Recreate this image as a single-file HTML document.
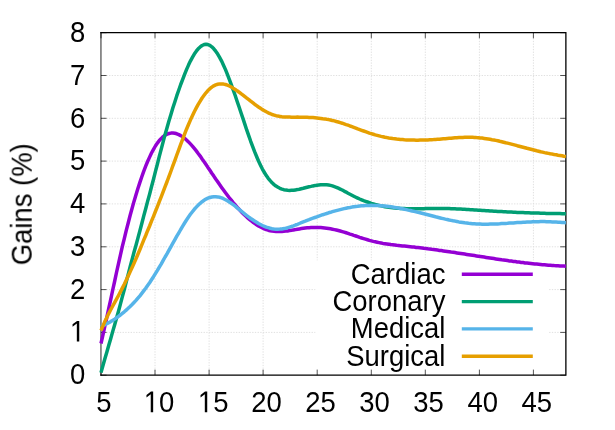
<!DOCTYPE html>
<html><head><meta charset="utf-8"><title>Gains</title>
<style>
html,body{margin:0;padding:0;background:#fff;}
svg{display:block;}
text{font-family:"Liberation Sans",sans-serif;font-size:26.67px;fill:#000;}
</style></head>
<body>
<svg width="615" height="430" viewBox="0 0 615 430">
<rect width="615" height="430" fill="#fff"/>
<g stroke="#e0e0e0" stroke-width="1" stroke-dasharray="1.35 1.35" fill="none">
<path d="M155.0,32.7 V375.2"/>
<path d="M209.1,32.7 V375.2"/>
<path d="M263.1,32.7 V375.2"/>
<path d="M317.2,32.7 V375.2"/>
<path d="M371.3,32.7 V375.2"/>
<path d="M425.3,32.7 V375.2"/>
<path d="M479.4,32.7 V375.2"/>
<path d="M533.4,32.7 V375.2"/>
<path d="M100.95,332.4 H565.88"/>
<path d="M100.95,289.6 H565.88"/>
<path d="M100.95,246.8 H565.88"/>
<path d="M100.95,203.9 H565.88"/>
<path d="M100.95,161.1 H565.88"/>
<path d="M100.95,118.3 H565.88"/>
<path d="M100.95,75.5 H565.88"/>
</g>
<rect x="315.5" y="260.4" width="233.5" height="114" fill="#fff"/>
<g stroke="#000" stroke-opacity="0.75" stroke-width="0.9" fill="none">
<path d="M101.0,375.2 v-5.6 M101.0,32.7 v5.6"/>
<path d="M155.0,375.2 v-5.6 M155.0,32.7 v5.6"/>
<path d="M209.1,375.2 v-5.6 M209.1,32.7 v5.6"/>
<path d="M263.1,375.2 v-5.6 M263.1,32.7 v5.6"/>
<path d="M317.2,375.2 v-5.6 M317.2,32.7 v5.6"/>
<path d="M371.3,375.2 v-5.6 M371.3,32.7 v5.6"/>
<path d="M425.3,375.2 v-5.6 M425.3,32.7 v5.6"/>
<path d="M479.4,375.2 v-5.6 M479.4,32.7 v5.6"/>
<path d="M533.4,375.2 v-5.6 M533.4,32.7 v5.6"/>
<path d="M100.95,375.2 h5.6 M565.88,375.2 h-5.6"/>
<path d="M100.95,332.4 h5.6 M565.88,332.4 h-5.6"/>
<path d="M100.95,289.6 h5.6 M565.88,289.6 h-5.6"/>
<path d="M100.95,246.8 h5.6 M565.88,246.8 h-5.6"/>
<path d="M100.95,203.9 h5.6 M565.88,203.9 h-5.6"/>
<path d="M100.95,161.1 h5.6 M565.88,161.1 h-5.6"/>
<path d="M100.95,118.3 h5.6 M565.88,118.3 h-5.6"/>
<path d="M100.95,75.5 h5.6 M565.88,75.5 h-5.6"/>
<path d="M100.95,32.7 h5.6 M565.88,32.7 h-5.6"/>
</g>
<path d="M100.95,375.2 V32.7" fill="none" stroke="#000" stroke-opacity="0.72" stroke-width="1.2" stroke-linecap="square"/>
<path d="M100.95,32.7 H565.88 V375.2 H100.95" fill="none" stroke="#000" stroke-width="1.3" stroke-linecap="square"/>
<g fill="none" stroke-width="3.5" stroke-linejoin="round" stroke-linecap="butt">
<path stroke="#9400d3" d="M101.0,343.5 L102.9,335.1 L104.8,326.4 L106.8,317.6 L108.7,308.6 L110.7,299.6 L112.6,290.5 L114.6,281.5 L116.5,272.5 L118.5,263.7 L120.4,255.1 L122.3,246.7 L124.3,238.6 L126.2,230.6 L128.2,223.0 L130.1,215.5 L132.1,208.3 L134.0,201.4 L136.0,194.8 L137.9,188.5 L139.9,182.4 L141.8,176.7 L143.7,171.3 L145.7,166.2 L147.6,161.5 L149.6,157.1 L151.5,153.0 L153.5,149.3 L155.4,146.0 L157.4,143.1 L159.3,140.5 L161.3,138.4 L163.2,136.6 L165.1,135.2 L167.1,134.2 L169.0,133.5 L171.0,133.1 L172.9,133.0 L174.9,133.3 L176.8,133.8 L178.8,134.6 L180.7,135.6 L182.7,136.9 L184.6,138.3 L186.5,140.0 L188.5,141.9 L190.4,143.9 L192.4,146.1 L194.3,148.4 L196.3,150.9 L198.2,153.5 L200.2,156.1 L202.1,158.9 L204.1,161.7 L206.0,164.5 L207.9,167.4 L209.9,170.3 L211.8,173.2 L213.8,176.1 L215.7,179.0 L217.7,181.8 L219.6,184.6 L221.6,187.4 L223.5,190.0 L225.5,192.7 L227.4,195.3 L229.3,197.8 L231.3,200.2 L233.2,202.6 L235.2,204.9 L237.1,207.2 L239.1,209.3 L241.0,211.4 L243.0,213.4 L244.9,215.3 L246.8,217.1 L248.8,218.8 L250.7,220.4 L252.7,222.0 L254.6,223.4 L256.6,224.7 L258.5,225.9 L260.5,227.0 L262.4,227.9 L264.4,228.8 L266.3,229.6 L268.2,230.2 L270.2,230.7 L272.1,231.1 L274.1,231.3 L276.0,231.5 L278.0,231.6 L279.9,231.6 L281.9,231.5 L283.8,231.3 L285.8,231.1 L287.7,230.9 L289.6,230.6 L291.6,230.3 L293.5,229.9 L295.5,229.6 L297.4,229.2 L299.4,228.9 L301.3,228.6 L303.3,228.3 L305.2,228.0 L307.2,227.8 L309.1,227.7 L311.0,227.6 L313.0,227.5 L314.9,227.5 L316.9,227.5 L318.8,227.5 L320.8,227.6 L322.7,227.8 L324.7,228.0 L326.6,228.2 L328.6,228.5 L330.5,228.8 L332.4,229.2 L334.4,229.6 L336.3,230.0 L338.3,230.5 L340.2,231.0 L342.2,231.6 L344.1,232.2 L346.1,232.8 L348.0,233.4 L350.0,234.1 L351.9,234.7 L353.8,235.4 L355.8,236.0 L357.7,236.7 L359.7,237.4 L361.6,238.0 L363.6,238.6 L365.5,239.2 L367.5,239.8 L369.4,240.4 L371.3,240.9 L373.3,241.4 L375.2,241.8 L377.2,242.2 L379.1,242.6 L381.1,243.0 L383.0,243.4 L385.0,243.7 L386.9,244.0 L388.9,244.3 L390.8,244.6 L392.7,244.8 L394.7,245.0 L396.6,245.3 L398.6,245.5 L400.5,245.7 L402.5,245.9 L404.4,246.1 L406.4,246.3 L408.3,246.5 L410.3,246.7 L412.2,246.9 L414.1,247.1 L416.1,247.4 L418.0,247.6 L420.0,247.8 L421.9,248.0 L423.9,248.3 L425.8,248.5 L427.8,248.8 L429.7,249.0 L431.7,249.3 L433.6,249.5 L435.5,249.8 L437.5,250.1 L439.4,250.4 L441.4,250.6 L443.3,250.9 L445.3,251.2 L447.2,251.5 L449.2,251.8 L451.1,252.1 L453.1,252.3 L455.0,252.6 L456.9,252.9 L458.9,253.2 L460.8,253.5 L462.8,253.8 L464.7,254.1 L466.7,254.4 L468.6,254.7 L470.6,255.0 L472.5,255.3 L474.5,255.6 L476.4,255.9 L478.3,256.2 L480.3,256.5 L482.2,256.8 L484.2,257.1 L486.1,257.4 L488.1,257.7 L490.0,258.0 L492.0,258.3 L493.9,258.6 L495.8,258.9 L497.8,259.2 L499.7,259.5 L501.7,259.8 L503.6,260.0 L505.6,260.3 L507.5,260.6 L509.5,260.9 L511.4,261.1 L513.4,261.4 L515.3,261.6 L517.2,261.9 L519.2,262.1 L521.1,262.4 L523.1,262.6 L525.0,262.9 L527.0,263.1 L528.9,263.3 L530.9,263.5 L532.8,263.7 L534.8,263.9 L536.7,264.1 L538.6,264.3 L540.6,264.5 L542.5,264.7 L544.5,264.8 L546.4,265.0 L548.4,265.2 L550.3,265.3 L552.3,265.4 L554.2,265.6 L556.2,265.7 L558.1,265.8 L560.0,265.9 L562.0,266.0 L563.9,266.1 L565.9,266.2"/>
<path stroke="#009e73" d="M101.0,372.6 L102.9,365.8 L104.8,359.0 L106.8,352.2 L108.7,345.5 L110.7,338.7 L112.6,331.9 L114.6,325.1 L116.5,318.2 L118.5,311.2 L120.4,304.1 L122.3,296.9 L124.3,289.5 L126.2,282.0 L128.2,274.4 L130.1,266.9 L132.1,259.5 L134.0,252.3 L136.0,245.2 L137.9,238.1 L139.9,230.8 L141.8,223.5 L143.7,216.1 L145.7,208.7 L147.6,201.4 L149.6,194.2 L151.5,186.8 L153.5,179.3 L155.4,171.7 L157.4,164.0 L159.3,156.4 L161.3,148.9 L163.2,141.6 L165.1,134.4 L167.1,127.5 L169.0,120.7 L171.0,114.2 L172.9,107.8 L174.9,101.7 L176.8,95.7 L178.8,90.0 L180.7,84.5 L182.7,79.3 L184.6,74.3 L186.5,69.6 L188.5,65.1 L190.4,61.1 L192.4,57.4 L194.3,54.1 L196.3,51.2 L198.2,48.8 L200.2,46.9 L202.1,45.5 L204.1,44.6 L206.0,44.3 L207.9,44.6 L209.9,45.4 L211.8,46.8 L213.8,48.8 L215.7,51.2 L217.7,54.1 L219.6,57.4 L221.6,61.1 L223.5,65.2 L225.5,69.6 L227.4,74.3 L229.3,79.3 L231.3,84.6 L233.2,90.0 L235.2,95.5 L237.1,101.2 L239.1,107.0 L241.0,112.8 L243.0,118.6 L244.9,124.4 L246.8,130.2 L248.8,135.8 L250.7,141.3 L252.7,146.6 L254.6,151.7 L256.6,156.5 L258.5,161.0 L260.5,165.2 L262.4,169.1 L264.4,172.5 L266.3,175.6 L268.2,178.3 L270.2,180.7 L272.1,182.8 L274.1,184.6 L276.0,186.1 L278.0,187.3 L279.9,188.3 L281.9,189.1 L283.8,189.7 L285.8,190.1 L287.7,190.3 L289.6,190.4 L291.6,190.3 L293.5,190.2 L295.5,189.9 L297.4,189.6 L299.4,189.2 L301.3,188.7 L303.3,188.3 L305.2,187.8 L307.2,187.3 L309.1,186.8 L311.0,186.4 L313.0,185.9 L314.9,185.6 L316.9,185.2 L318.8,185.0 L320.8,184.8 L322.7,184.7 L324.7,184.7 L326.6,184.8 L328.6,185.0 L330.5,185.4 L332.4,185.9 L334.4,186.6 L336.3,187.3 L338.3,188.2 L340.2,189.1 L342.2,190.0 L344.1,191.1 L346.1,192.1 L348.0,193.2 L350.0,194.2 L351.9,195.2 L353.8,196.2 L355.8,197.2 L357.7,198.1 L359.7,199.0 L361.6,199.8 L363.6,200.6 L365.5,201.3 L367.5,202.0 L369.4,202.7 L371.3,203.4 L373.3,203.9 L375.2,204.5 L377.2,205.0 L379.1,205.5 L381.1,205.9 L383.0,206.3 L385.0,206.7 L386.9,207.0 L388.9,207.3 L390.8,207.6 L392.7,207.8 L394.7,208.0 L396.6,208.2 L398.6,208.3 L400.5,208.4 L402.5,208.5 L404.4,208.6 L406.4,208.7 L408.3,208.7 L410.3,208.7 L412.2,208.8 L414.1,208.8 L416.1,208.8 L418.0,208.7 L420.0,208.7 L421.9,208.7 L423.9,208.7 L425.8,208.6 L427.8,208.6 L429.7,208.6 L431.7,208.5 L433.6,208.5 L435.5,208.5 L437.5,208.5 L439.4,208.5 L441.4,208.5 L443.3,208.5 L445.3,208.5 L447.2,208.6 L449.2,208.6 L451.1,208.7 L453.1,208.8 L455.0,208.8 L456.9,208.9 L458.9,209.0 L460.8,209.1 L462.8,209.2 L464.7,209.3 L466.7,209.5 L468.6,209.6 L470.6,209.7 L472.5,209.8 L474.5,210.0 L476.4,210.1 L478.3,210.2 L480.3,210.3 L482.2,210.5 L484.2,210.6 L486.1,210.7 L488.1,210.8 L490.0,211.0 L492.0,211.1 L493.9,211.2 L495.8,211.3 L497.8,211.4 L499.7,211.5 L501.7,211.6 L503.6,211.7 L505.6,211.8 L507.5,211.9 L509.5,212.0 L511.4,212.1 L513.4,212.2 L515.3,212.3 L517.2,212.4 L519.2,212.5 L521.1,212.5 L523.1,212.6 L525.0,212.7 L527.0,212.8 L528.9,212.8 L530.9,212.9 L532.8,213.0 L534.8,213.0 L536.7,213.1 L538.6,213.1 L540.6,213.2 L542.5,213.3 L544.5,213.3 L546.4,213.4 L548.4,213.4 L550.3,213.4 L552.3,213.5 L554.2,213.5 L556.2,213.6 L558.1,213.6 L560.0,213.6 L562.0,213.7 L563.9,213.7 L565.9,213.7"/>
<path stroke="#56b4e9" d="M101.0,326.7 L102.9,325.8 L104.8,324.8 L106.8,323.8 L108.7,322.7 L110.7,321.6 L112.6,320.4 L114.6,319.1 L116.5,317.8 L118.5,316.4 L120.4,315.0 L122.3,313.4 L124.3,311.8 L126.2,310.1 L128.2,308.3 L130.1,306.5 L132.1,304.5 L134.0,302.5 L136.0,300.4 L137.9,298.1 L139.9,295.8 L141.8,293.4 L143.7,290.9 L145.7,288.3 L147.6,285.5 L149.6,282.7 L151.5,279.8 L153.5,276.7 L155.4,273.6 L157.4,270.4 L159.3,267.1 L161.3,263.8 L163.2,260.4 L165.1,257.0 L167.1,253.6 L169.0,250.1 L171.0,246.6 L172.9,243.2 L174.9,239.7 L176.8,236.2 L178.8,232.8 L180.7,229.5 L182.7,226.2 L184.6,223.0 L186.5,220.0 L188.5,217.0 L190.4,214.3 L192.4,211.7 L194.3,209.3 L196.3,207.1 L198.2,205.1 L200.2,203.3 L202.1,201.7 L204.1,200.3 L206.0,199.1 L207.9,198.2 L209.9,197.5 L211.8,197.0 L213.8,196.7 L215.7,196.7 L217.7,196.9 L219.6,197.3 L221.6,197.9 L223.5,198.7 L225.5,199.7 L227.4,200.8 L229.3,202.0 L231.3,203.3 L233.2,204.7 L235.2,206.2 L237.1,207.8 L239.1,209.3 L241.0,210.9 L243.0,212.5 L244.9,214.1 L246.8,215.6 L248.8,217.1 L250.7,218.5 L252.7,219.8 L254.6,221.1 L256.6,222.3 L258.5,223.5 L260.5,224.5 L262.4,225.5 L264.4,226.3 L266.3,227.1 L268.2,227.7 L270.2,228.3 L272.1,228.7 L274.1,229.0 L276.0,229.2 L278.0,229.2 L279.9,229.1 L281.9,228.9 L283.8,228.6 L285.8,228.2 L287.7,227.7 L289.6,227.1 L291.6,226.5 L293.5,225.8 L295.5,225.0 L297.4,224.3 L299.4,223.5 L301.3,222.7 L303.3,221.9 L305.2,221.2 L307.2,220.4 L309.1,219.7 L311.0,218.9 L313.0,218.2 L314.9,217.5 L316.9,216.8 L318.8,216.1 L320.8,215.4 L322.7,214.7 L324.7,214.1 L326.6,213.5 L328.6,212.8 L330.5,212.3 L332.4,211.7 L334.4,211.1 L336.3,210.6 L338.3,210.1 L340.2,209.6 L342.2,209.1 L344.1,208.6 L346.1,208.2 L348.0,207.8 L350.0,207.5 L351.9,207.1 L353.8,206.8 L355.8,206.5 L357.7,206.3 L359.7,206.0 L361.6,205.8 L363.6,205.7 L365.5,205.5 L367.5,205.4 L369.4,205.4 L371.3,205.3 L373.3,205.4 L375.2,205.4 L377.2,205.5 L379.1,205.6 L381.1,205.7 L383.0,205.9 L385.0,206.1 L386.9,206.3 L388.9,206.5 L390.8,206.8 L392.7,207.1 L394.7,207.4 L396.6,207.7 L398.6,208.1 L400.5,208.4 L402.5,208.8 L404.4,209.2 L406.4,209.6 L408.3,210.1 L410.3,210.5 L412.2,211.0 L414.1,211.4 L416.1,211.9 L418.0,212.4 L420.0,212.8 L421.9,213.3 L423.9,213.8 L425.8,214.3 L427.8,214.8 L429.7,215.3 L431.7,215.8 L433.6,216.3 L435.5,216.8 L437.5,217.2 L439.4,217.7 L441.4,218.2 L443.3,218.6 L445.3,219.1 L447.2,219.5 L449.2,220.0 L451.1,220.4 L453.1,220.8 L455.0,221.1 L456.9,221.5 L458.9,221.9 L460.8,222.2 L462.8,222.5 L464.7,222.8 L466.7,223.0 L468.6,223.3 L470.6,223.5 L472.5,223.7 L474.5,223.8 L476.4,223.9 L478.3,224.0 L480.3,224.1 L482.2,224.2 L484.2,224.2 L486.1,224.2 L488.1,224.2 L490.0,224.1 L492.0,224.1 L493.9,224.0 L495.8,223.9 L497.8,223.9 L499.7,223.8 L501.7,223.6 L503.6,223.5 L505.6,223.4 L507.5,223.3 L509.5,223.1 L511.4,223.0 L513.4,222.9 L515.3,222.7 L517.2,222.6 L519.2,222.5 L521.1,222.4 L523.1,222.3 L525.0,222.2 L527.0,222.1 L528.9,222.0 L530.9,221.9 L532.8,221.8 L534.8,221.7 L536.7,221.7 L538.6,221.7 L540.6,221.6 L542.5,221.6 L544.5,221.6 L546.4,221.7 L548.4,221.7 L550.3,221.8 L552.3,221.9 L554.2,222.0 L556.2,222.1 L558.1,222.2 L560.0,222.3 L562.0,222.5 L563.9,222.6 L565.9,222.7"/>
<path stroke="#e69f00" d="M101.0,330.5 L102.9,325.9 L104.8,321.6 L106.8,317.5 L108.7,313.6 L110.7,309.8 L112.6,306.2 L114.6,302.6 L116.5,299.1 L118.5,295.5 L120.4,291.9 L122.3,288.1 L124.3,284.2 L126.2,280.2 L128.2,276.1 L130.1,271.9 L132.1,267.6 L134.0,263.2 L136.0,258.7 L137.9,254.2 L139.9,249.5 L141.8,244.9 L143.7,240.2 L145.7,235.5 L147.6,230.7 L149.6,226.0 L151.5,221.2 L153.5,216.3 L155.4,211.5 L157.4,206.6 L159.3,201.7 L161.3,196.7 L163.2,191.7 L165.1,186.6 L167.1,181.5 L169.0,176.3 L171.0,171.0 L172.9,165.7 L174.9,160.3 L176.8,155.0 L178.8,149.6 L180.7,144.4 L182.7,139.2 L184.6,134.1 L186.5,129.2 L188.5,124.5 L190.4,120.1 L192.4,115.8 L194.3,111.7 L196.3,107.9 L198.2,104.4 L200.2,101.1 L202.1,98.0 L204.1,95.3 L206.0,92.8 L207.9,90.6 L209.9,88.7 L211.8,87.1 L213.8,85.8 L215.7,84.9 L217.7,84.3 L219.6,83.9 L221.6,83.9 L223.5,84.1 L225.5,84.5 L227.4,85.2 L229.3,86.0 L231.3,87.0 L233.2,88.2 L235.2,89.4 L237.1,90.8 L239.1,92.2 L241.0,93.7 L243.0,95.2 L244.9,96.7 L246.8,98.2 L248.8,99.7 L250.7,101.2 L252.7,102.7 L254.6,104.2 L256.6,105.6 L258.5,107.0 L260.5,108.3 L262.4,109.6 L264.4,110.7 L266.3,111.8 L268.2,112.8 L270.2,113.7 L272.1,114.5 L274.1,115.1 L276.0,115.7 L278.0,116.1 L279.9,116.4 L281.9,116.7 L283.8,116.9 L285.8,117.0 L287.7,117.1 L289.6,117.1 L291.6,117.2 L293.5,117.2 L295.5,117.2 L297.4,117.1 L299.4,117.2 L301.3,117.2 L303.3,117.2 L305.2,117.2 L307.2,117.3 L309.1,117.4 L311.0,117.5 L313.0,117.6 L314.9,117.8 L316.9,118.0 L318.8,118.2 L320.8,118.4 L322.7,118.7 L324.7,118.9 L326.6,119.3 L328.6,119.6 L330.5,120.0 L332.4,120.5 L334.4,120.9 L336.3,121.5 L338.3,122.0 L340.2,122.6 L342.2,123.2 L344.1,123.9 L346.1,124.6 L348.0,125.2 L350.0,126.0 L351.9,126.7 L353.8,127.4 L355.8,128.1 L357.7,128.9 L359.7,129.6 L361.6,130.3 L363.6,131.0 L365.5,131.7 L367.5,132.4 L369.4,133.1 L371.3,133.7 L373.3,134.3 L375.2,134.9 L377.2,135.4 L379.1,135.9 L381.1,136.4 L383.0,136.8 L385.0,137.3 L386.9,137.6 L388.9,138.0 L390.8,138.3 L392.7,138.6 L394.7,138.8 L396.6,139.1 L398.6,139.3 L400.5,139.5 L402.5,139.6 L404.4,139.8 L406.4,139.9 L408.3,140.0 L410.3,140.1 L412.2,140.1 L414.1,140.1 L416.1,140.2 L418.0,140.2 L420.0,140.1 L421.9,140.1 L423.9,140.0 L425.8,140.0 L427.8,139.9 L429.7,139.8 L431.7,139.7 L433.6,139.6 L435.5,139.4 L437.5,139.3 L439.4,139.2 L441.4,139.0 L443.3,138.8 L445.3,138.7 L447.2,138.5 L449.2,138.3 L451.1,138.2 L453.1,138.0 L455.0,137.8 L456.9,137.7 L458.9,137.6 L460.8,137.5 L462.8,137.4 L464.7,137.3 L466.7,137.3 L468.6,137.3 L470.6,137.3 L472.5,137.3 L474.5,137.4 L476.4,137.6 L478.3,137.7 L480.3,137.9 L482.2,138.1 L484.2,138.4 L486.1,138.7 L488.1,139.0 L490.0,139.3 L492.0,139.7 L493.9,140.0 L495.8,140.4 L497.8,140.8 L499.7,141.3 L501.7,141.7 L503.6,142.2 L505.6,142.7 L507.5,143.1 L509.5,143.6 L511.4,144.1 L513.4,144.6 L515.3,145.1 L517.2,145.7 L519.2,146.2 L521.1,146.7 L523.1,147.2 L525.0,147.7 L527.0,148.3 L528.9,148.8 L530.9,149.3 L532.8,149.8 L534.8,150.3 L536.7,150.8 L538.6,151.2 L540.6,151.7 L542.5,152.1 L544.5,152.6 L546.4,153.0 L548.4,153.4 L550.3,153.8 L552.3,154.1 L554.2,154.5 L556.2,154.8 L558.1,155.2 L560.0,155.5 L562.0,155.8 L563.9,156.2 L565.9,156.5"/>
</g>
<g fill="none" stroke-width="3.4">
<path stroke="#9400d3" d="M461.8,274.2 H532.8"/>
<path stroke="#009e73" d="M461.8,301.6 H532.8"/>
<path stroke="#56b4e9" d="M461.8,328.9 H532.8"/>
<path stroke="#e69f00" d="M461.8,356.3 H532.8"/>
</g>
<g opacity="0.999">
<text transform="translate(445.4,283.6) scale(1.03,1.127)" text-anchor="end">Cardiac</text>
<text transform="translate(445.4,311.0) scale(1.03,1.127)" text-anchor="end">Coronary</text>
<text transform="translate(445.4,338.3) scale(1.03,1.127)" text-anchor="end">Medical</text>
<text transform="translate(445.4,365.7) scale(1.03,1.127)" text-anchor="end">Surgical</text>
<text transform="translate(104.0,412.3) scale(1.03,1.127)" text-anchor="middle">5</text>
<path transform="translate(143.83,412.30) scale(0.013413,-0.014676)" d="M515 0V1237L197 1010V1180L530 1409H696V0Z" fill="#000"/>
<text transform="translate(159.1,412.3) scale(1.03,1.127)" text-anchor="start">0</text>
<path transform="translate(197.90,412.30) scale(0.013413,-0.014676)" d="M515 0V1237L197 1010V1180L530 1409H696V0Z" fill="#000"/>
<text transform="translate(213.2,412.3) scale(1.03,1.127)" text-anchor="start">5</text>
<text transform="translate(266.4,412.3) scale(1.03,1.127)" text-anchor="middle">20</text>
<text transform="translate(320.5,412.3) scale(1.03,1.127)" text-anchor="middle">25</text>
<text transform="translate(374.6,412.3) scale(1.03,1.127)" text-anchor="middle">30</text>
<text transform="translate(428.6,412.3) scale(1.03,1.127)" text-anchor="middle">35</text>
<text transform="translate(482.7,412.3) scale(1.03,1.127)" text-anchor="middle">40</text>
<text transform="translate(536.7,412.3) scale(1.03,1.127)" text-anchor="middle">45</text>
<text transform="translate(85.2,384.4) scale(1.03,1.127)" text-anchor="end">0</text>
<path transform="translate(69.92,341.59) scale(0.013413,-0.014676)" d="M515 0V1237L197 1010V1180L530 1409H696V0Z" fill="#000"/>
<text transform="translate(85.2,298.8) scale(1.03,1.127)" text-anchor="end">2</text>
<text transform="translate(85.2,256.0) scale(1.03,1.127)" text-anchor="end">3</text>
<text transform="translate(85.2,213.1) scale(1.03,1.127)" text-anchor="end">4</text>
<text transform="translate(85.2,170.3) scale(1.03,1.127)" text-anchor="end">5</text>
<text transform="translate(85.2,127.5) scale(1.03,1.127)" text-anchor="end">6</text>
<text transform="translate(85.2,84.7) scale(1.03,1.127)" text-anchor="end">7</text>
<text transform="translate(85.2,41.9) scale(1.03,1.127)" text-anchor="end">8</text>
<text transform="translate(32.0,204.3) rotate(-90) scale(1.03,1.127)" text-anchor="middle">Gains (%)</text>
</g>
</svg>
</body></html>
